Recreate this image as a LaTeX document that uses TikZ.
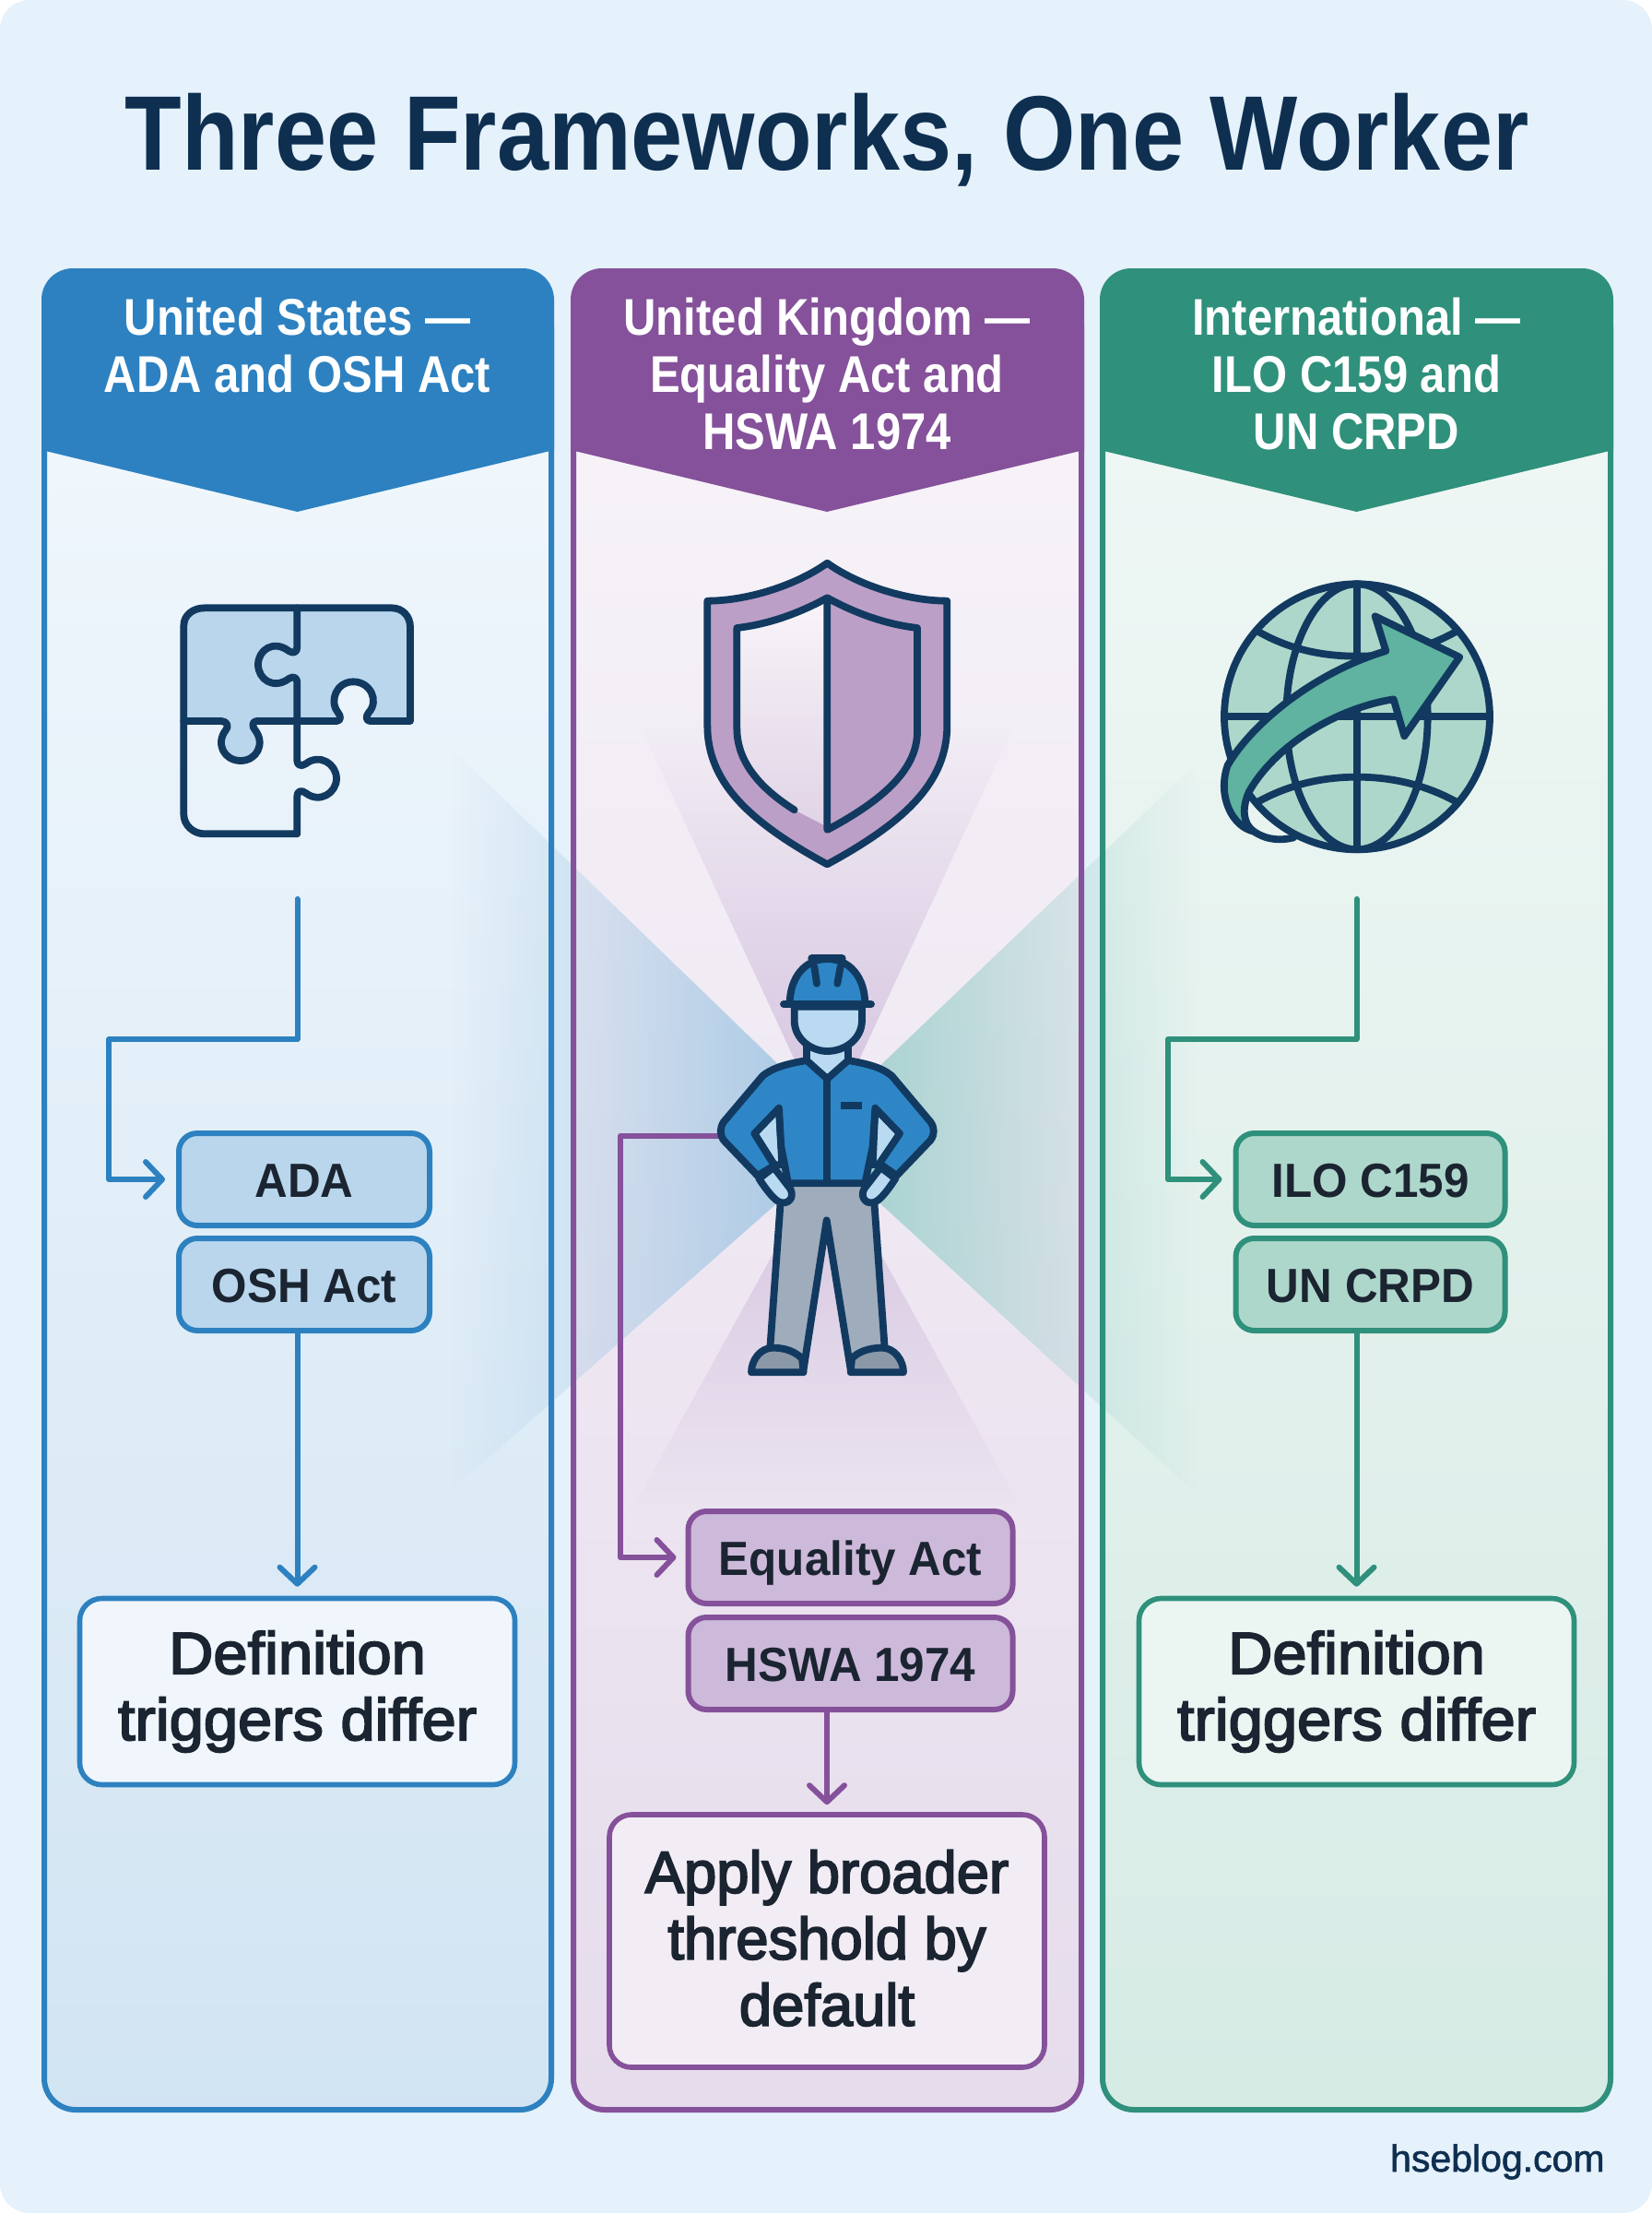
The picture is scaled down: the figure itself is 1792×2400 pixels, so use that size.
\documentclass[tikz,border=0pt]{standalone}
\usepackage{fontspec}
\usetikzlibrary{arrows.meta,fadings,shadings}
\setmainfont{Liberation Sans}
\newfontfamily\ttlf[FakeStretch=0.877]{Liberation Sans Bold}
\newfontfamily\hdrf[FakeStretch=0.875]{Liberation Sans Bold}
\newfontfamily\medf[FakeStretch=0.99,FakeBold=3]{Liberation Sans}
\newfontfamily\medg[FakeStretch=1.045,FakeBold=3]{Liberation Sans}
\newfontfamily\tagf[FakeStretch=0.95]{Liberation Sans Bold}
\newfontfamily\wmf[FakeBold=1.5]{Liberation Sans}
\definecolor{pagebg}{HTML}{E5F1FB}
\definecolor{navy}{HTML}{123A60}
\definecolor{titlec}{HTML}{0E2F50}
\definecolor{inkc}{HTML}{1B2431}
\definecolor{bluec}{HTML}{2D81C0}
\definecolor{purpc}{HTML}{85519A}
\definecolor{tealc}{HTML}{2F907B}
\definecolor{bluet}{HTML}{B9D6EC}
\definecolor{purpt}{HTML}{CDB9D9}
\definecolor{tealt}{HTML}{AED7CB}
\definecolor{skin}{HTML}{B9DAF0}
\definecolor{shirt}{HTML}{2E86C6}
\definecolor{pants}{HTML}{9EACBC}
\definecolor{boot}{HTML}{8B98A8}
\definecolor{rayteal}{HTML}{9CCFCB}
\definecolor{arrowt}{HTML}{5FB3A0}
\tikzfading[name=fadeL,left color=transparent!100,right color=transparent!0]
\tikzfading[name=fadeR,left color=transparent!0,right color=transparent!100]
\tikzfading[name=fadeT,top color=transparent!100,bottom color=transparent!0]
\tikzfading[name=fadeB,top color=transparent!0,bottom color=transparent!100]
\tikzset{
  colframe/.style={line width=3pt,rounded corners=17pt},
  tagbox/.style={rounded corners=10pt,line width=3pt,minimum width=136pt,minimum height=50pt,inner sep=0pt,text=inkc,text height=19.5pt,text depth=0pt,font=\tagf\fontsize{26}{30}\selectfont},
  resbox/.style={rounded corners=12pt,line width=2.8pt,inner sep=0pt,text=inkc,align=center,font=\medf\fontsize{32}{36}\selectfont},
  hdrtext/.style={text=white,align=center,anchor=north,inner sep=0pt,font=\hdrf\fontsize{28}{31}\selectfont},
  conn/.style={line width=3pt,line cap=round,line join=round},
  tip/.style={-{Straight Barb[length=9pt,width=19pt,round]}},
  ico/.style={draw=navy,line width=3.9pt,line join=round,line cap=round},
}
\begin{document}
\begin{tikzpicture}[x=0.5pt,y=-0.5pt]
\useasboundingbox (0,0) rectangle (1792,2400);
\fill[white] (0,0) rectangle (1792,2400);
\fill[pagebg,rounded corners=16pt] (0,0) rectangle (1792,2400);
\node[inner sep=0pt,text=titlec,font=\ttlf\fontsize{57.5}{62}\selectfont] (title) at (897,152) {Three Frameworks, One Worker};

% column bodies
\shade[top color=pagebg!50!white,bottom color=bluet!65!white,rounded corners=17pt] (48,320) rectangle (598,2288);
\shade[top color=purpt!15!white,bottom color=purpt!50!white,rounded corners=17pt] (622,320) rectangle (1173,2288);
\shade[top color=tealt!18!white,bottom color=tealt!50!white,rounded corners=17pt] (1196,320) rectangle (1747,2288);

% rays
\fill[color=purpt!85!white,path fading=fadeT] (897,1225) -- (691,780) -- (1103,780) -- cycle;
\fill[color=purpt!85!white,path fading=fadeB] (897,1254) -- (684,1640) -- (1110,1640) -- cycle;
\fill[color=bluec!45!white,path fading=fadeL] (925,1232) -- (490,811) -- (490,1616) -- cycle;
\fill[color=rayteal,path fading=fadeR] (875,1232) -- (1300,826) -- (1300,1622) -- cycle;

% column frames and headers
\draw[colframe,draw=bluec] (48,320) rectangle (598,2288);
\draw[colframe,draw=purpc] (622,320) rectangle (1173,2288);
\draw[colframe,draw=tealc] (1196,320) rectangle (1747,2288);
\fill[bluec] (45,488) [rounded corners=17pt] -- (45,291) -- (601,291) [sharp corners] -- (601,488) -- (322.5,555) -- cycle;
\fill[purpc] (619,488) [rounded corners=17pt] -- (619,291) -- (1176,291) [sharp corners] -- (1176,488) -- (897,555) -- cycle;
\fill[tealc] (1193,488) [rounded corners=17pt] -- (1193,291) -- (1750,291) [sharp corners] -- (1750,488) -- (1471.5,555) -- cycle;
\node[hdrtext] (h1) at (322.5,323) {United States —\\ADA and OSH Act};
\node[hdrtext] (h2) at (897,323) {United Kingdom —\\Equality Act and\\HSWA 1974};
\node[hdrtext] (h3) at (1471.5,323) {International —\\ILO C159 and\\UN CRPD};

% tag boxes
\node[tagbox,draw=bluec,fill=bluet] (ada) at (330,1279) {ADA};
\node[tagbox,draw=bluec,fill=bluet] (osh) at (330,1393) {OSH Act};
\node[tagbox,draw=purpc,fill=purpt,minimum width=176pt] (eq) at (922.5,1689) {Equality Act};
\node[tagbox,draw=purpc,fill=purpt,minimum width=176pt] (hs) at (922.5,1804) {HSWA 1974};
\node[tagbox,draw=tealc,fill=tealt,minimum width=146pt] (ilo) at (1486.5,1279) {ILO C159};
\node[tagbox,draw=tealc,fill=tealt,minimum width=146pt] (un) at (1486.5,1393) {UN CRPD};

% result boxes
\node[resbox,font=\medg\fontsize{32}{36}\selectfont,draw=bluec,fill=bluet!22!white,minimum width=236pt,minimum height=101pt] (r1) at (322.5,1834.5) {Definition\\triggers differ};
\node[resbox,draw=purpc,fill=purpt!25!white,minimum width=236pt,minimum height=137pt] (r2) at (897,2105) {Apply broader\\threshold by\\default\rule[-3.5pt]{0pt}{0pt}};
\node[resbox,font=\medg\fontsize{32}{36}\selectfont,draw=tealc,fill=tealt!25!white,minimum width=236pt,minimum height=101pt] (r3) at (1471.5,1834.5) {Definition\\triggers differ};

% connectors
\coordinate (s1) at (322.5,975); \coordinate (b1) at (118,1127);
\coordinate (s3) at (1471.5,975); \coordinate (b3) at (1267,1127);
\coordinate (wk) at (790,1232); \coordinate (b2) at (673,1232);
\draw[conn,draw=bluec,tip,shorten >=6pt] (s1) |- (b1) |- (ada.west);
\draw[conn,draw=tealc,tip,shorten >=6pt] (s3) |- (b3) |- (ilo.west);
\draw[conn,draw=purpc,tip,shorten >=5pt] (wk) -- (b2) |- (eq.west);
\draw[conn,draw=bluec,tip,shorten >=5pt] (osh.south -| r1.north) -- (r1.north);
\draw[conn,draw=tealc,tip,shorten >=5pt] (un.south -| r3.north) -- (r3.north);
\draw[conn,draw=purpc,tip,shorten >=4pt] (hs.south -| r2.north) -- (r2.north);

% puzzle icon
\begin{scope}[shift={(150,600)},scale=1/3]
\fill[bluet] (148,546) -- (148,235) .. controls (148,200) and (180,178) .. (215,178) -- (825,178) .. controls (860,178) and (885,205) .. (885,240) -- (885,546) -- (755,546) .. controls (740,546) and (740,530) .. (750,518) .. controls (785,480) and (755,418) .. (700,418) .. controls (645,418) and (620,480) .. (650,518) .. controls (660,530) and (660,546) .. (645,546) -- (385,546) .. controls (370,546) and (370,565) .. (380,575) .. controls (415,620) and (385,675) .. (333,675) .. controls (280,675) and (250,620) .. (285,575) .. controls (295,565) and (290,546) .. (270,546) -- cycle;
\draw[ico] (148,546) -- (148,235) .. controls (148,200) and (180,178) .. (215,178) -- (825,178) .. controls (860,178) and (885,205) .. (885,240) -- (885,546) -- (755,546) .. controls (740,546) and (740,530) .. (750,518) .. controls (785,480) and (755,418) .. (700,418) .. controls (645,418) and (620,480) .. (650,518) .. controls (660,530) and (660,546) .. (645,546) -- (385,546) .. controls (370,546) and (370,565) .. (380,575) .. controls (415,620) and (385,675) .. (333,675) .. controls (280,675) and (250,620) .. (285,575) .. controls (295,565) and (290,546) .. (270,546) -- cycle;
\draw[ico] (517,178) -- (517,305) .. controls (517,322) and (505,328) .. (490,318) .. controls (440,280) and (390,315) .. (390,362) .. controls (390,410) and (440,445) .. (490,408) .. controls (505,398) and (517,405) .. (517,420) -- (517,675) .. controls (517,690) and (530,695) .. (545,685) .. controls (590,650) and (645,685) .. (645,733) .. controls (645,780) and (590,815) .. (545,780) .. controls (530,768) and (517,775) .. (517,790) -- (517,913) -- (215,913) .. controls (180,913) and (148,885) .. (148,850) -- (148,546);
\end{scope}

% shield icon
\begin{scope}[shift={(720,580)},scale=1/3]
\fill[color=purpc!55!white] (532,92) .. controls (430,165) and (270,215) .. (142,215) -- (142,620) .. controls (142,800) and (270,930) .. (532,1072) .. controls (794,930) and (922,800) .. (922,620) -- (922,215) .. controls (794,215) and (634,165) .. (532,92) -- cycle;
\shade[top color=purpc!6!white,middle color=purpc!8!white,bottom color=purpc!25!white] (238,303) .. controls (350,290) and (450,250) .. (532,205) -- (532,950) -- (425,895) .. controls (290,810) and (238,720) .. (238,630) -- cycle;
\draw[ico] (532,92) .. controls (430,165) and (270,215) .. (142,215) -- (142,620) .. controls (142,800) and (270,930) .. (532,1072) .. controls (794,930) and (922,800) .. (922,620) -- (922,215) .. controls (794,215) and (634,165) .. (532,92) -- cycle;
\draw[ico] (425,895) .. controls (290,810) and (238,720) .. (238,630) -- (238,303) .. controls (350,290) and (450,250) .. (532,205) .. controls (614,250) and (714,290) .. (825,303) -- (825,640) .. controls (825,760) and (720,860) .. (532,960) -- (532,205);
\end{scope}

% globe icon
\begin{scope}[shift={(1290,600)},scale=1/3]
\fill[color=tealt] (546,532) circle [radius=432];
\draw[ico] (546,532) circle [radius=432];
\draw[ico] (546,100) -- (546,964);
\draw[ico] (114,532) -- (978,532);
\draw[ico] (546,532) ellipse [x radius=230,y radius=432];
\draw[ico] (225,255) .. controls (330,315) and (440,335) .. (546,335) .. controls (652,335) and (762,315) .. (868,255);
\draw[ico] (225,808) .. controls (330,750) and (440,728) .. (546,728) .. controls (652,728) and (762,750) .. (868,808);
\draw[ico] (210,905) .. controls (255,935) and (300,935) .. (340,925);
\filldraw[ico,fill=arrowt] (125,690) .. controls (200,560) and (400,390) .. (640,318) -- (605,205) -- (880,338) -- (700,595) -- (665,475) .. controls (500,500) and (290,610) .. (195,775) .. controls (170,830) and (175,880) .. (210,905) .. controls (140,890) and (90,790) .. (125,690) -- cycle;
\end{scope}

% worker
\begin{scope}[shift={(740,1010)},scale=1/3]
\filldraw[ico,fill=skin] (405,370) -- (405,425) -- (472,480) -- (540,425) -- (540,370) -- cycle;
\filldraw[ico,fill=pants] (345,825) -- (320,880) -- (285,1370) -- (395,1425) -- (470,940) -- (548,1425) -- (660,1370) -- (625,880) -- (595,825);
\filldraw[ico,fill=boot] (225,1435) .. controls (225,1395) and (255,1355) .. (295,1355) .. controls (340,1355) and (370,1370) .. (390,1390) -- (395,1435) -- cycle;
\filldraw[ico,fill=boot] (720,1435) .. controls (720,1395) and (690,1355) .. (650,1355) .. controls (605,1355) and (570,1370) .. (552,1390) -- (548,1435) -- cycle;
\filldraw[ico,fill=skin] (235,658) -- (315,575) -- (325,760) -- (300,760) -- cycle;
\filldraw[ico,fill=skin] (708,658) -- (628,575) -- (620,760) -- (645,760) -- cycle;
\filldraw[ico,fill=shirt] (405,420) .. controls (350,430) and (300,440) .. (262,470) -- (135,620) .. controls (122,640) and (122,660) .. (135,680) -- (245,795) -- (300,762) -- (235,658) -- (315,575) -- (322,700) -- (345,820) -- (595,820) -- (620,700) -- (628,575) -- (708,658) -- (642,755) -- (698,795) -- (808,680) .. controls (822,660) and (822,640) .. (808,620) -- (682,470) .. controls (645,440) and (595,430) .. (540,420) -- (472,480) -- cycle;
\draw[ico] (472,480) -- (472,815);
\fill[navy] (515,555) rectangle (585,578);
\filldraw[ico,fill=skin] (250,805) -- (298,768) -- (352,838) .. controls (368,870) and (340,892) .. (315,880) .. controls (295,870) and (270,835) .. cycle;
\filldraw[ico,fill=skin] (694,805) -- (646,768) -- (592,838) .. controls (576,870) and (604,892) .. (629,880) .. controls (649,870) and (674,835) .. cycle;
\filldraw[ico,fill=skin] (365,245) -- (365,290) .. controls (365,350) and (420,390) .. (472,390) .. controls (530,390) and (585,350) .. (585,290) -- (585,245) -- cycle;
\filldraw[ico,fill=shirt] (350,237) .. controls (350,150) and (400,90) .. (472,90) .. controls (545,90) and (595,150) .. (595,237) -- cycle;
\draw[ico] (330,237) -- (615,237);
\draw[ico,line width=4.4pt] (422,88) -- (520,88);
\draw[ico] (430,115) -- (438,170);
\draw[ico] (515,115) -- (505,170);
\end{scope}

\node[inner sep=0pt,anchor=base east,text=titlec,font=\wmf\fontsize{20.5}{24}\selectfont] (wm) at (1741,2355) {hseblog.com};
\end{tikzpicture}
\end{document}
